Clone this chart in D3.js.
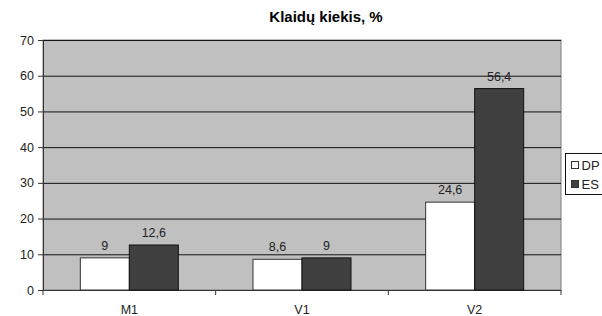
<html>
<head>
  <script src="https://d3js.org/d3.v7.min.js"></script>
  <style>
    body { margin: 0; background: white; }
    svg { display: block; font-family: "Liberation Sans", Arial, sans-serif; }
    .cTitle { font-weight: bold; font-size: 15px; fill: black; }
    .tickText { font-size: 12.5px; fill: #222; }
  </style>
</head>
<body>
  <svg id="chart" width="602" height="316"></svg>
  <script>
    const categories = ["M1", "V1", "V2"];
    const seriesNames = ["DP", "ES"];
    const dpValues = [9, 8.6, 24.6];
    const esValues = [12.6, 9, 56.4];
    const yTicks = [0, 10, 20, 30, 40, 50, 60, 70];

    const colors = { "DP": "#ffffff", "ES": "#404040" };
    const strokes = { "DP": "#333333", "ES": "#111111" };

    let svg = d3.select("svg#chart");
    let margins = { "left": 43, "right": 41, "top": 40, "bottom": 26 };
    let w = +svg.attr("width");
    let h = +svg.attr("height");
    let chartWidth = w - margins.left - margins.right;
    let chartHeight = h - margins.top - margins.bottom;

    let chartArea = svg.append("g")
      .attr("transform", `translate(${margins.left}, ${margins.top})`);

    let xScale = d3.scaleBand(categories, [0, chartWidth]).padding(0);
    let step = xScale.bandwidth();
    let innerPad = (step - 98) / 2;
    let x1 = d3.scaleBand(seriesNames, [innerPad, step - innerPad]).padding(0);
    let yScale = d3.scaleLinear([0, 70], [chartHeight, 0]);

    // plot background
    chartArea.append("rect")
      .attr("x", 0).attr("y", 0)
      .attr("width", chartWidth).attr("height", chartHeight)
      .attr("fill", "#c0c0c0")
      .attr("stroke", "#808080");

    // grid
    chartArea.append("g")
      .selectAll("line").data(yTicks.filter(t => t > 0))
      .join("line")
      .attr("x1", 0).attr("x2", chartWidth)
      .attr("y1", d => yScale(d) + 0.5).attr("y2", d => yScale(d) + 0.5)
      .attr("stroke", "#111")
      .attr("stroke-width", 1);

    // y axis
    let leftAxis = d3.axisLeft(yScale).tickValues(yTicks).tickSize(5).tickPadding(4);
    let yAxisG = chartArea.append("g").call(leftAxis);
    yAxisG.select(".domain").attr("stroke", "#333");
    yAxisG.selectAll(".tick line").attr("stroke", "#333");
    yAxisG.selectAll(".tick text").attr("class", "tickText").style("font-size", "12.5px").attr("fill", "#222");

    // x axis with ticks at category boundaries
    let xAxisG = chartArea.append("g")
      .attr("transform", `translate(0, ${chartHeight})`);
    xAxisG.append("line")
      .attr("x1", 0).attr("x2", chartWidth)
      .attr("y1", 0.5).attr("y2", 0.5)
      .attr("stroke", "#333");
    xAxisG.selectAll("line.tk").data(d3.range(categories.length + 1))
      .join("line")
      .attr("class", "tk")
      .attr("x1", d => d * step).attr("x2", d => d * step)
      .attr("y1", 0).attr("y2", 5)
      .attr("stroke", "#333");
    xAxisG.selectAll("text").data(categories)
      .join("text")
      .attr("class", "tickText")
      .attr("x", d => xScale(d) + step / 2)
      .attr("y", 24)
      .style("text-anchor", "middle")
      .text(d => d);

    // bars
    let barData = [];
    categories.forEach((c, i) => {
      barData.push({ cat: c, series: "DP", value: dpValues[i] });
      barData.push({ cat: c, series: "ES", value: esValues[i] });
    });

    chartArea.selectAll("rect.bar").data(barData)
      .join("rect")
      .attr("class", "bar")
      .attr("x", d => xScale(d.cat) + x1(d.series))
      .attr("y", d => yScale(d.value))
      .attr("width", x1.bandwidth())
      .attr("height", d => chartHeight - yScale(d.value))
      .attr("fill", d => colors[d.series])
      .attr("stroke", d => strokes[d.series])
      .attr("stroke-width", 1);

    chartArea.selectAll("text.val").data(barData)
      .join("text")
      .attr("class", "tickText val")
      .attr("x", d => xScale(d.cat) + x1(d.series) + x1.bandwidth() / 2)
      .attr("y", d => yScale(d.value) - 8)
      .style("text-anchor", "middle")
      .text(d => String(d.value).replace(".", ","));

    // title
    svg.append("text")
      .attr("class", "cTitle")
      .attr("x", 326)
      .attr("y", 22)
      .style("text-anchor", "middle")
      .text("Klaidų kiekis, %");

    // legend
    let legendG = svg.append("g").attr("transform", "translate(565.5, 153.5)");
    legendG.append("rect")
      .attr("width", 40).attr("height", 41)
      .attr("fill", "white").attr("stroke", "#111");
    seriesNames.forEach((s, i) => {
      legendG.append("rect")
        .attr("x", 6).attr("y", 8 + i * 19)
        .attr("width", 7).attr("height", 7)
        .attr("fill", colors[s])
        .attr("stroke", "#333");
      legendG.append("text")
        .attr("class", "tickText")
        .style("font-size", "13px")
        .attr("x", 16)
        .attr("y", 16 + i * 19)
        .text(s);
    });
  </script>
</body>
</html>
